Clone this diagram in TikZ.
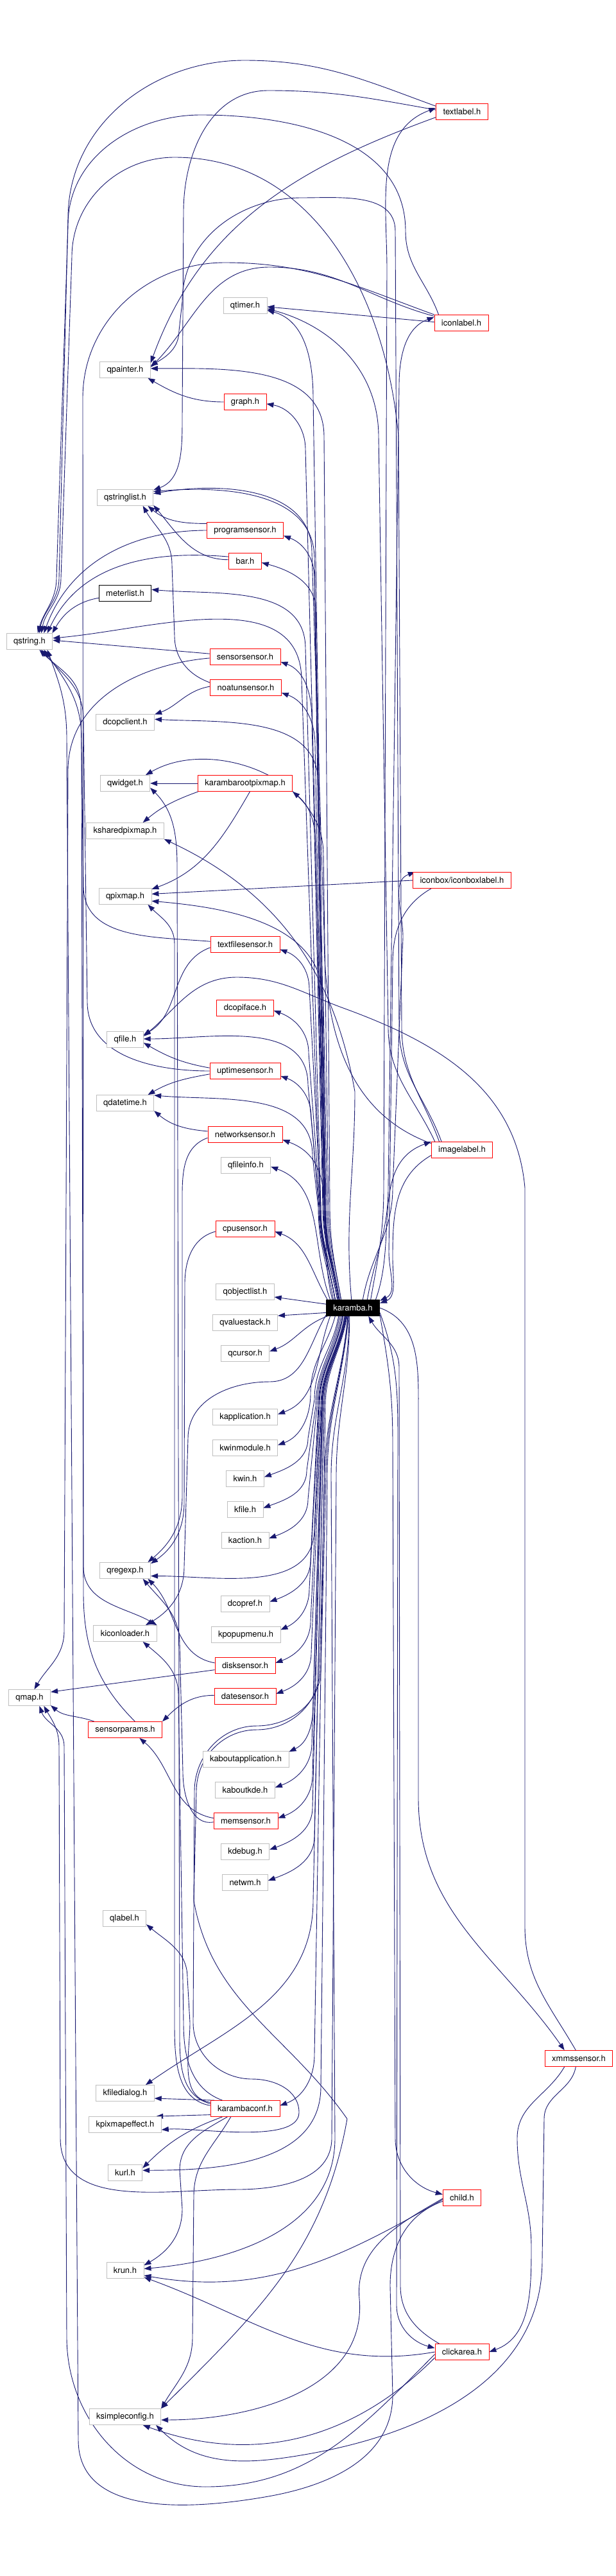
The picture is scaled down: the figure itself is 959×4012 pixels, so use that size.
\documentclass[tikz,border=0pt]{standalone}
\usepackage{fontspec}
\setmainfont{TeX Gyre Heros}
\usetikzlibrary{arrows.meta}
\definecolor{edgeblue}{rgb}{0.098,0.098,0.439}
\definecolor{hdrgray}{rgb}{0.75,0.75,0.75}
\pgfdeclarelayer{background}
\pgfsetlayers{background,main}

\begin{document}
\begin{tikzpicture}[x=1pt, y=-1pt,
    file/.style={rectangle, draw, fill=white, line width=0.8pt, minimum height=25pt,
      inner xsep=11pt, inner ysep=0pt, font=\fontsize{13}{15}\selectfont},
    hdr/.style={file, draw=hdrgray},
    trunc/.style={file, draw=red},
    doc/.style={file, draw=black},
    cur/.style={file, draw=black, fill=black, text=white},
    edge/.style={draw=edgeblue, line width=0.9pt, -{Triangle[length=11pt,width=8pt]}}]
    \useasboundingbox (0,0) rectangle (959,4012);

    % --- right column ---
    \node[trunc] (textlabel) at (720,174) {textlabel.h};
    \node[trunc] (iconlabel) at (719,503) {iconlabel.h};
    \node[trunc] (iconboxlabel) at (720,1371) {iconbox/iconboxlabel.h};
    \node[trunc] (imagelabel) at (720,1791) {imagelabel.h};
    \node[trunc] (child) at (720,3423) {child.h};
    \node[trunc] (clickarea) at (720,3663) {clickarea.h};
    \node[trunc] (xmmssensor) at (902,3206) {xmmssensor.h};

    % --- karamba.h ---
    \node[cur] (karamba) at (550,2037) {karamba.h};

    % --- middle column ---
    \node[hdr] (qtimer) at (382,476) {qtimer.h};
    \node[trunc] (graph) at (382,626) {graph.h};
    \node[trunc] (programsensor) at (382,826) {programsensor.h};
    \node[trunc] (bar) at (382,874) {bar.h};
    \node[trunc] (sensorsensor) at (382,1023) {sensorsensor.h};
    \node[trunc] (noatunsensor) at (383,1071) {noatunsensor.h};
    \node[trunc] (karambarootpixmap) at (382,1220) {karambarootpixmap.h};
    \node[trunc] (textfilesensor) at (382,1471) {textfilesensor.h};
    \node[trunc] (dcopiface) at (382,1570) {dcopiface.h};
    \node[trunc] (uptimesensor) at (382,1668) {uptimesensor.h};
    \node[trunc] (networksensor) at (382,1767) {networksensor.h};
    \node[hdr] (qfileinfo) at (383,1815) {qfileinfo.h};
    \node[trunc] (cpusensor) at (382,1914) {cpusensor.h};
    \node[hdr] (qobjectlist) at (382,2012) {qobjectlist.h};
    \node[hdr] (qvaluestack) at (382,2060) {qvaluestack.h};
    \node[hdr] (qcursor) at (382,2108) {qcursor.h};
    \node[hdr] (kapplication) at (382,2207) {kapplication.h};
    \node[hdr] (kwinmodule) at (382,2255) {kwinmodule.h};
    \node[hdr] (kwin) at (382,2303) {kwin.h};
    \node[hdr] (kfile) at (382,2351) {kfile.h};
    \node[hdr] (kaction) at (382,2399) {kaction.h};
    \node[hdr] (dcopref) at (382,2498) {dcopref.h};
    \node[hdr] (kpopupmenu) at (383,2546) {kpopupmenu.h};
    \node[trunc] (disksensor) at (382,2594) {disksensor.h};
    \node[trunc] (datesensor) at (382,2642) {datesensor.h};
    \node[hdr] (kaboutapplication) at (383,2740) {kaboutapplication.h};
    \node[hdr] (kaboutkde) at (382,2788) {kaboutkde.h};
    \node[trunc] (memsensor) at (383,2836) {memsensor.h};
    \node[hdr] (kdebug) at (382,2884) {kdebug.h};
    \node[hdr] (netwm) at (382,2932) {netwm.h};
    \node[trunc] (karambaconf) at (382,3284) {karambaconf.h};

    % --- left columns ---
    \node[hdr] (qpainter) at (195,576) {qpainter.h};
    \node[hdr] (qstringlist) at (195,775) {qstringlist.h};
    \node[doc] (meterlist) at (195,924) {meterlist.h};
    \node[hdr] (qstring) at (46,999) {qstring.h};
    \node[hdr] (dcopclient) at (195,1125) {dcopclient.h};
    \node[hdr] (qwidget) at (195,1220) {qwidget.h};
    \node[hdr] (ksharedpixmap) at (195,1294) {ksharedpixmap.h};
    \node[hdr] (qpixmap) at (195,1396) {qpixmap.h};
    \node[hdr] (qfile) at (195,1619) {qfile.h};
    \node[hdr] (qdatetime) at (195,1718) {qdatetime.h};
    \node[hdr] (qregexp) at (195,2446) {qregexp.h};
    \node[hdr] (kiconloader) at (195,2544) {kiconloader.h};
    \node[hdr] (qmap) at (46,2644) {qmap.h};
    \node[trunc] (sensorparams) at (195,2694) {sensorparams.h};
    \node[hdr] (qlabel) at (194,2988) {qlabel.h};
    \node[hdr] (kfiledialog) at (195,3260) {kfiledialog.h};
    \node[hdr] (kpixmapeffect) at (195,3309) {kpixmapeffect.h};
    \node[hdr] (kurl) at (195,3384) {kurl.h};
    \node[hdr] (krun) at (195,3536) {krun.h};
    \node[hdr] (ksimpleconfig) at (195,3764) {ksimpleconfig.h};

    \begin{pgfonlayer}{background}
    % --- karamba.h, upwards ---
    \draw[edge] (karamba.150) to[out=100,in=-90] (508,1880) -- (488,620) to[out=90,in=-15] (qtimer.-12);
    \draw[edge] (karamba.150) to[out=100,in=-90] (506,1880) -- (476,700) to[out=90,in=-10] (graph.-5);
    \draw[edge] (karamba.145) to[out=100,in=-90] (514,1880) -- (505,680) to[out=90,in=0] (qpainter.3);
    \draw[edge] (karamba.150) to[out=100,in=-90] (507,1880) -- (490,870) to[out=90,in=5] (qstringlist.12);
    \draw[edge] (karamba.150) to[out=100,in=-90] (505,1880) -- (490,900) to[out=90,in=-20] (programsensor.-8);
    \draw[edge] (karamba.150) to[out=100,in=-90] (506,1880) -- (492,950) to[out=90,in=-15] (bar.-5);
    \draw[edge] (karamba.155) to[out=100,in=-90] (500,1880) -- (476,1010) to[out=90,in=-5] (meterlist.8);
    \draw[edge] (karamba.155) to[out=100,in=-90] (499,1880) -- (470,1060) to[out=90,in=5] (qstring.8);
    \draw[edge] (karamba.150) to[out=100,in=-90] (503,1880) -- (486,1120) to[out=90,in=-20] (sensorsensor.-8);
    \draw[edge] (karamba.150) to[out=100,in=-90] (505,1880) -- (491,1160) to[out=90,in=-20] (noatunsensor.-8);
    \draw[edge] (karamba.148) to[out=100,in=-90] (507,1880) -- (496,1220) to[out=90,in=-3] (dcopclient.6);
    \draw[edge] (karamba.145) to[out=100,in=-90] (512,1880) -- (504,1330) to[out=90,in=30] (qwidget.22);
    \draw[edge] (karamba.150) to[out=100,in=-90] (504,1880) -- (492,1320) to[out=90,in=-40] (karambarootpixmap.south east);
    \draw[edge] (karamba.100) to[out=95,in=-90] (553,1700) to[out=100,in=-25] (ksharedpixmap.south east);
    \draw[edge] (karamba.148) to[out=100,in=-90] (510,1880) -- (504,1560) to[out=90,in=-5] (qpixmap.-10);
    \draw[edge] (karamba.152) to[out=100,in=-90] (500,1880) -- (482,1540) to[out=90,in=-20] (textfilesensor.-8);
    \draw[edge] (karamba.152) to[out=100,in=-90] (499,1880) -- (481,1640) to[out=90,in=-20] (dcopiface.-5);
    \draw[edge] (karamba.155) to[out=100,in=-90] (498,1880) -- (480,1690) to[out=90,in=0] (qfile.2);
    \draw[edge] (karamba.155) to[out=100,in=-90] (497,1880) -- (485,1740) to[out=90,in=-20] (uptimesensor.-8);
    \draw[edge] (karamba.157) to[out=100,in=-90] (496,1880) -- (487,1800) to[out=90,in=-5] (qdatetime.15);
    \draw[edge] (karamba.158) to[out=105,in=-20] (networksensor.-8);
    \draw[edge] (karamba.160) to[out=110,in=-20] (qfileinfo.-3);
    \draw[edge] (karamba.162) to[out=120,in=-20] (cpusensor.-5);
    \draw[edge] (karamba.172) -- (qobjectlist.-10);
    \draw[edge] (karamba.190) -- (qvaluestack.12);

    % --- karamba.h, downwards ---
    \draw[edge] (karamba.198) to[out=200,in=20] (qcursor.5);
    \draw[edge] (karamba.-160) to[out=-110,in=20] (kapplication.5);
    \draw[edge] (karamba.-155) to[out=-105,in=90] (484,2170) to[out=-90,in=20] (kwinmodule.5);
    \draw[edge] (karamba.-150) to[out=-100,in=90] (490,2180) -- (480,2240) to[out=-90,in=20] (kwin.5);
    \draw[edge] (karamba.-148) to[out=-100,in=90] (492,2190) -- (478,2290) to[out=-90,in=20] (kfile.5);
    \draw[edge] (karamba.-145) to[out=-100,in=90] (494,2190) -- (480,2335) to[out=-90,in=20] (kaction.5);
    \draw[edge] (karamba.-140) to[out=-100,in=90] (498,2190) -- (490,2380) to[out=-90,in=0] (qregexp.-12);
    \draw[edge] (karamba.-142) to[out=-100,in=90] (496,2190) -- (484,2430) to[out=-90,in=20] (dcopref.5);
    \draw[edge] (karamba.-165) to[out=-120,in=0] (420,2152) to[out=180,in=90] (293,2240) -- (287,2440) to[out=-90,in=30] (kiconloader.22);
    \draw[edge] (karamba.-140) to[out=-100,in=90] (497,2190) -- (482,2475) to[out=-90,in=25] (kpopupmenu.8);
    \draw[edge] (karamba.-135) to[out=-100,in=90] (500,2190) -- (484,2525) to[out=-90,in=20] (disksensor.5);
    \draw[edge] (karamba.-135) to[out=-100,in=90] (501,2190) -- (485,2575) to[out=-90,in=20] (datesensor.5);
    \draw[edge] (karamba.-132) to[out=-100,in=90] (502,2190) -- (488,2655) to[out=-90,in=25] (kaboutapplication.10);
    \draw[edge] (karamba.-132) to[out=-100,in=90] (502,2190) -- (486,2715) to[out=-90,in=20] (kaboutkde.5);
    \draw[edge] (karamba.-130) to[out=-100,in=90] (503,2190) -- (487,2765) to[out=-90,in=20] (memsensor.5);
    \draw[edge] (karamba.-130) to[out=-100,in=90] (503,2190) -- (487,2815) to[out=-90,in=20] (kdebug.5);
    \draw[edge] (karamba.-128) to[out=-100,in=90] (505,2190) -- (490,2860) to[out=-90,in=20] (netwm.5);
    \draw[edge] (karamba.-125) to[out=-100,in=90] (507,2190) -- (490,3200) to[out=-90,in=20] (karambaconf.5);
    \draw[edge] (karamba.-128) to[out=-100,in=90] (505,2190) -- (488,2960) to[out=-90,in=35] (kfiledialog.22);
    \draw[edge] (karamba.-120) to[out=-95,in=90] (508,2300) -- (500,2600) to[out=-90,in=0] (400,2688) to[out=180,in=90] (303,2790) -- (301,3150) to[out=-90,in=180] (393,3238) to[out=0,in=90] (466,3290) to[out=-90,in=5,looseness=0.6] (kpixmapeffect.-8);
    \draw[edge] (karamba.-122) to[out=-95,in=90] (506,2300) -- (498,2600) to[out=-90,in=0] (400,2694) to[out=180,in=90] (306,2790) -- (302,2960) to[out=-80,in=125] (541,3300) to[out=-100,in=45] (ksimpleconfig.north east);
    \draw[edge] (karamba.-118) to[out=-95,in=90] (510,2300) -- (500,3250) to[out=-90,in=0] (kurl.8);
    \draw[edge] (karamba.-115) to[out=-90,in=90] (516,2300) -- (522,3330) to[out=-90,in=5] (krun.5);
    \draw[edge] (karamba.-112) to[out=-90,in=90] (524,2300) -- (517,3330) to[out=-90,in=0] (369,3410) to[out=180,in=-90] (94,3330) -- (92,2720) to[out=90,in=-60] (qmap.-30);

    % --- karamba.h, to the right ---
    \draw[edge] (karamba.25) to[out=80,in=-90] (598,1850) -- (603,420) to[out=90,in=200] (textlabel.172);
    \draw[edge] (karamba.30) to[out=80,in=-90] (605,1850) -- (622,600) to[out=90,in=200] (iconlabel.168);
    \draw[edge] (karamba.40) to[out=80,in=-90] (612,1850) -- (628,1460) to[out=90,in=200] (iconboxlabel.170);
    \draw[edge] (karamba.20) to[out=70,in=200] (imagelabel.165);
    \draw[edge] (karamba.-15) to[out=-80,in=90] (612,2250) -- (616,3330) to[out=-90,in=165] (child.170);
    \draw[edge] (karamba.-10) to[out=-70,in=90] (620,2250) -- (618,3590) to[out=-90,in=165] (clickarea.172);
    \draw[edge] (karamba.east) to[out=-20,in=90] (652,2200) -- (652,2800) to[out=-90,in=125] (xmmssensor.150);

    % --- back edges of the right column ---
    \draw[edge] (textlabel.168) to[out=160,in=0] (381,94) to[out=180,in=90] (106,340) -- (92,900) to[out=-90,in=80] (qstring.40);
    \draw[edge] (textlabel.176) to[out=170,in=0] (418,141) to[out=180,in=90] (286,330) -- (284,650) to[out=-90,in=20] (qstringlist.15);
    \draw[edge] (textlabel.192) to[out=200,in=70] (qpainter.15);
    \draw[edge] (iconlabel.178) -- (qtimer.-3);
    \draw[edge] (iconlabel.160) to[out=110,in=-90] (632,360) to[out=90,in=0] (313,179) to[out=180,in=90] (106,350) -- (88,900) to[out=-90,in=75] (qstring.45);
    \draw[edge] (iconlabel.163) to[out=160,in=0] (350,409) to[out=180,in=90] (129,620) -- (130,2440) to[out=-90,in=150] (kiconloader.north east);
    \draw[edge] (iconlabel.166) to[out=165,in=0] (420,416) to[out=180,in=45] (qpainter.6);
    \draw[edge] (imagelabel.160) to[out=110,in=-90] (626,1600) -- (621,680) to[out=95,in=0] (272,245) to[out=180,in=90] (112,400) -- (95,900) to[out=-90,in=80] (qstring.35);
    \draw[edge] (imagelabel.158) to[out=110,in=-90] (622,1600) -- (616,360) to[out=90,in=0] (470,308) to[out=180,in=90] (284,470) -- (279,515) to[out=-90,in=30] (qpainter.9);
    \draw[edge] (imagelabel.163) to[out=115,in=-90] (605,1600) -- (590,680) to[out=90,in=-15] (qtimer.-8);
    \draw[edge] (imagelabel.168) to[out=160,in=-90] (505,1450) -- (486,860) to[out=90,in=10] (qstringlist.8);
    \draw[edge] (imagelabel.190) to[out=210,in=90] (612,1960) to[out=-90,in=20] (karamba.10);
    \draw[edge] (iconboxlabel.180) -- (qpixmap.5);
    \draw[edge] (iconboxlabel.195) to[out=210,in=90] (612,1500) -- (606,1950) to[out=-90,in=25] (karamba.15);
    \draw[edge] (child.190) to[out=200,in=90] (608,3560) -- (612,3730) to[out=-90,in=10] (418,3888) to[out=190,in=-90] (122,3800) -- (104,1150) to[out=90,in=-70] (qstring.-25);
    \draw[edge] (child.185) to[out=210,in=-10] (krun.-15);
    \draw[edge] (child.182) to[out=210,in=95] (560,3580) to[out=-85,in=0] (ksimpleconfig.-5);
    \draw[edge] (clickarea.185) to[out=225,in=0] (320,3873) to[out=180,in=-90] (104,3640) -- (100,2720) to[out=90,in=-70] (qmap.-40);
    \draw[edge] (clickarea.180) to[out=190,in=-20] (krun.-20);
    \draw[edge] (clickarea.192) to[out=225,in=-20] (ksimpleconfig.-25);
    \draw[edge] (clickarea.160) to[out=150,in=-90] (624,3560) -- (622,2130) to[out=90,in=-60] (karamba.-28);
    \draw[edge] (xmmssensor.-150) to[out=-120,in=90] (806,3330) to[out=-90,in=90] (828,3500) to[out=-90,in=20] (clickarea.east);
    \draw[edge] (xmmssensor.-110) to[out=-100,in=90] (848,3300) -- (845,3520) to[out=-90,in=10] (480,3822) to[out=190,in=-45] (ksimpleconfig.-15);
    \draw[edge] (xmmssensor.110) to[out=120,in=-90] (818,3000) -- (818,1850) to[out=95,in=-20] (535,1570) to[out=160,in=0] (369,1522) to[out=180,in=40] (qfile.10);

    % --- middle column to the left ---
    \draw[edge] (graph.west) to[out=180,in=-30] (qpainter.-20);
    \draw[edge] (programsensor.170) to[out=180,in=-40] (qstringlist.-20);
    \draw[edge] (programsensor.180) to[out=180,in=70] (qstring.30);
    \draw[edge] (bar.175) to[out=180,in=-50] (qstringlist.-15);
    \draw[edge] (bar.165) to[out=175,in=65] (qstring.25);
    \draw[edge] (meterlist.190) to[out=190,in=60] (qstring.20);
    \draw[edge] (sensorsensor.175) -- (qstring.3);
    \draw[edge] (sensorsensor.182) to[out=185,in=90] (106,1200) -- (100,2540) to[out=-90,in=60] (qmap.60);
    \draw[edge] (noatunsensor.178) to[out=190,in=20] (dcopclient.15);
    \draw[edge] (noatunsensor.172) to[out=160,in=-90] (272,990) -- (268,880) to[out=90,in=-60] (qstringlist.-25);
    \draw[edge] (karambarootpixmap.west) -- (qwidget.east);
    \draw[edge] (karambarootpixmap.-170) to[out=200,in=40] (ksharedpixmap.25);
    \draw[edge] (karambarootpixmap.-60) to[out=-120,in=20] (qpixmap.15);
    \draw[edge] (textfilesensor.175) to[out=175,in=-90] (130,1380) -- (126,1100) to[out=90,in=-45] (qstring.-40);
    \draw[edge] (textfilesensor.185) to[out=200,in=30] (qfile.14);
    \draw[edge] (uptimesensor.175) to[out=170,in=-30] (qfile.-10);
    \draw[edge] (uptimesensor.185) to[out=190,in=30] (qdatetime.20);
    \draw[edge] (uptimesensor.180) to[out=180,in=-90] (136,1560) -- (130,1120) to[out=90,in=-50] (qstring.-35);
    \draw[edge] (networksensor.175) to[out=175,in=-40] (qdatetime.-15);
    \draw[edge] (networksensor.185) to[out=200,in=90] (284,1880) -- (284,2330) to[out=-90,in=40] (qregexp.20);
    \draw[edge] (cpusensor.185) to[out=195,in=90] (288,2000) -- (287,2340) to[out=-90,in=35] (qregexp.15);
    \draw[edge] (disksensor.188) -- (qmap.15);
    \draw[edge] (disksensor.175) to[out=170,in=-45] (qregexp.-20);
    \draw[edge] (datesensor.178) to[out=180,in=45] (sensorparams.north east);
    \draw[edge] (sensorparams.165) to[out=160,in=-40] (qmap.-20);
    \draw[edge] (sensorparams.40) to[out=135,in=-90] (130,2480) -- (127,1150) to[out=90,in=-55] (qstring.-30);
    \draw[edge] (memsensor.175) to[out=170,in=-40] (sensorparams.-30);
    \draw[edge] (memsensor.182) to[out=190,in=-90] (285,2760) -- (280,2560) to[out=90,in=-50] (qregexp.-25);

    % --- karambaconf.h ---
    \draw[edge] (karambaconf.165) -- (kfiledialog.-10);
    \draw[edge] (karambaconf.190) -- (kpixmapeffect.15);
    \draw[edge] (karambaconf.200) to[out=200,in=45] (kurl.15);
    \draw[edge] (karambaconf.205) to[out=210,in=90] (280,3380) -- (284,3440) to[out=-90,in=30] (krun.15);
    \draw[edge] (karambaconf.-150) to[out=-120,in=90] (302,3420) -- (300,3640) to[out=-90,in=60] (ksimpleconfig.north east);
    \draw[edge] (karambaconf.170) to[out=170,in=-90] (296,3150) -- (292,3080) to[out=90,in=-40] (qlabel.-15);
    \draw[edge] (karambaconf.172) to[out=165,in=-90] (280,3150) -- (276,1350) to[out=90,in=-45] (qwidget.-10);
    \draw[edge] (karambaconf.160) to[out=160,in=-90] (286,3150) -- (278,2640) to[out=90,in=-40] (kiconloader.-25);
    \draw[edge] (karambaconf.175) to[out=170,in=-90] (272,3150) -- (272,1470) to[out=90,in=-45] (qpixmap.-20);
    \end{pgfonlayer}
\end{tikzpicture}
\end{document}
